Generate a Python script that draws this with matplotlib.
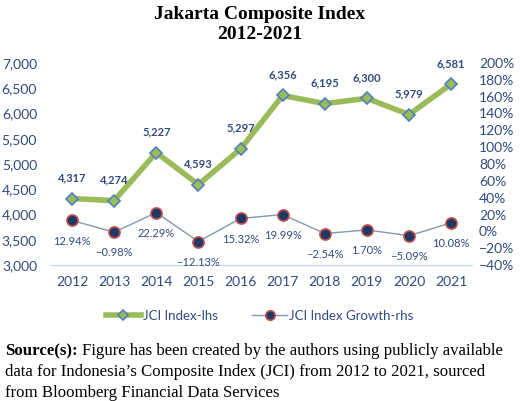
import matplotlib.pyplot as plt
from matplotlib.ticker import FuncFormatter

years = ['2012', '2013', '2014', '2015', '2016', '2017', '2018', '2019', '2020', '2021']
jci_index = [4317, 4274, 5227, 4593, 5297, 6356, 6195, 6300, 5979, 6581]
jci_growth = [12.94, -0.98, 22.29, -12.13, 15.32, 19.99, -2.54, 1.70, -5.09, 10.08]

caption_lines = [
    'Figure has been created by the authors using publicly available',
    'data for Indonesia\u2019s Composite Index (JCI) from 2012 to 2021, sourced',
    'from Bloomberg Financial Data Services',
]

navy = '#2F4B7C'
sans = ['Lato', 'DejaVu Sans']
serif = 'Liberation Serif'

fig = plt.figure(figsize=(5.2, 4.01), dpi=100)
ax = fig.add_axes([0.098, 0.339, 0.81, 0.504])
ax2 = ax.twinx()

x = list(range(len(years)))

# left axis: index level
ax.plot(x, jci_index, color='#9BBB59', lw=4, marker='D', ms=6,
        mfc='#9BBB59', mec='#4F81BD', mew=1.2, label='JCI Index-lhs', zorder=3)
ax.set_ylim(3000, 7000)
ax.set_yticks(range(3000, 7001, 500))
ax.yaxis.set_major_formatter(FuncFormatter(lambda v, p: f'{int(v):,}'))
ax.set_xlim(-0.5, len(years) - 0.5)
ax.set_xticks(x)
ax.set_xticklabels(years)

for xi, v in zip(x, jci_index):
    ax.annotate(f'{v:,}', (xi, v), xytext=(0, 11), textcoords='offset points',
                ha='center', va='bottom', fontsize=8, fontweight='bold',
                color=navy, family=sans)

# right axis: growth
ax2.plot(x, jci_growth, color='#8497B0', lw=1, marker='o', ms=8,
         mfc='#1F3864', mec='#C0504D', mew=1.2, label='JCI Index Growth-rhs', zorder=3)
ax2.set_ylim(-40, 200)
ax2.set_yticks(range(-40, 201, 20))
ax2.yaxis.set_major_formatter(FuncFormatter(
    lambda v, p: f'{int(v)}%' if v >= 0 else f'\u2212{abs(int(v))}%'))

for xi, v in zip(x, jci_growth):
    s = f'{v:.2f}%' if v >= 0 else f'\u2212{abs(v):.2f}%'
    ax2.annotate(s, (xi, v), xytext=(0, -11), textcoords='offset points',
                 ha='center', va='top', fontsize=8, color=navy, family=sans)

for a in (ax, ax2):
    for sp in a.spines.values():
        sp.set_visible(False)
    a.tick_params(length=0, colors=navy, labelsize=10)
    for lab in a.get_xticklabels() + a.get_yticklabels():
        lab.set_family(sans)
ax.spines['bottom'].set_visible(True)
ax.spines['bottom'].set_color('#BDD7EE')
ax.tick_params(axis='x', pad=8)
ax.tick_params(axis='y', pad=10)
ax2.tick_params(axis='y', pad=5)

h1, l1 = ax.get_legend_handles_labels()
h2, l2 = ax2.get_legend_handles_labels()
leg = fig.legend(h1 + h2, l1 + l2, loc='center', bbox_to_anchor=(0.5, 0.212),
                 ncol=2, frameon=False, prop={'family': sans, 'size': 9.5},
                 handlelength=2.6, columnspacing=2.6, handletextpad=0.2,
                 markerscale=0.85)
for t in leg.get_texts():
    t.set_color(navy)

fig.text(0.5, 0.985, 'Jakarta Composite Index\n2012-2021', ha='center', va='top',
         fontsize=14, fontweight='bold', family=serif, linespacing=1.2)

# caption: bold lead-in, then plain text lines
y0, dy = 1 - 355 / 401, 21 / 401
src = fig.text(0.01, y0, 'Source(s):', ha='left', va='baseline', fontsize=12.1,
               fontweight='bold', family=serif)
fig.canvas.draw()
bb = src.get_window_extent().transformed(fig.transFigure.inverted())
fig.text(bb.x1 + 0.008, y0, caption_lines[0], ha='left', va='baseline',
         fontsize=12.1, family=serif)
for i, line in enumerate(caption_lines[1:], start=1):
    fig.text(0.01, y0 - i * dy, line, ha='left', va='baseline',
             fontsize=12.1, family=serif)

fig.savefig('out.png', dpi=100)
